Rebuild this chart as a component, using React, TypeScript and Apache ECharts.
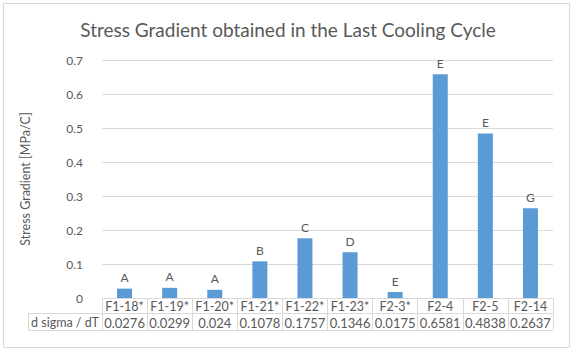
import React, { useEffect, useRef } from "react";
import * as echarts from "echarts";

const categories = ["F1-18*", "F1-19*", "F1-20*", "F1-21*", "F1-22*", "F1-23*", "F2-3*", "F2-4", "F2-5", "F2-14"];
const values = [0.0276, 0.0299, 0.024, 0.1078, 0.1757, 0.1346, 0.0175, 0.6581, 0.4838, 0.2637];
const valueTexts = ["0.0276", "0.0299", "0.024", "0.1078", "0.1757", "0.1346", "0.0175", "0.6581", "0.4838", "0.2637"];
const groups = ["A", "A", "A", "B", "C", "D", "E", "E", "E", "G"];
const seriesName = "d sigma / dT";
const title = "Stress Gradient obtained in the Last Cooling Cycle";
const yName = "Stress Gradient [MPa/C]";

const FONT = "Lato";
const TXT = "#595959";
const LINE = "#d9d9d9";

export default function App() {
  const ref = useRef<HTMLDivElement>(null);
  useEffect(() => {
    if (!ref.current) return;
    const chart = echarts.init(ref.current, null, { renderer: "svg" });
    chart.setOption({
      animation: false,
      backgroundColor: "#ffffff",
      textStyle: { fontFamily: FONT },
      title: {
        text: title,
        left: "center",
        top: 15,
        textStyle: { fontFamily: FONT, fontSize: 19, fontWeight: "normal", color: TXT },
      },
      grid: { left: 102, right: 23, top: 60, bottom: 56, containLabel: false },
      xAxis: {
        type: "category",
        data: categories,
        axisLine: { lineStyle: { color: LINE } },
        axisTick: { show: true, length: 32, interval: 0, lineStyle: { color: LINE } },
        axisLabel: {
          interval: 0,
          margin: 0,
          formatter: (v: string, i: number) => `{a|${v}}\n{b|${valueTexts[i]}}`,
          rich: {
            a: { fontFamily: FONT, fontSize: 12.5, color: TXT, lineHeight: 16, height: 16 },
            b: { fontFamily: FONT, fontSize: 13, color: TXT, lineHeight: 17, height: 17 },
          },
        },
      },
      yAxis: {
        type: "value",
        min: 0,
        max: 0.7,
        interval: 0.1,
        name: yName,
        nameLocation: "middle",
        nameRotate: 90,
        nameGap: 70,
        nameTextStyle: { fontFamily: FONT, fontSize: 12.5, color: TXT },
        axisLine: { show: false },
        axisTick: { show: false },
        axisLabel: { fontFamily: FONT, fontSize: 12, color: TXT, margin: 19 },
        splitLine: { lineStyle: { color: LINE } },
      },
      series: [
        {
          name: seriesName,
          type: "bar",
          data: values,
          barWidth: 15,
          itemStyle: { color: "#5b9bd5" },
          label: {
            show: true,
            position: "top",
            distance: 5,
            formatter: (p: any) => groups[p.dataIndex],
            fontFamily: FONT,
            fontSize: 12,
            color: TXT,
          },
        },
      ],
      graphic: [
        {
          type: "rect",
          shape: { x: 3.5, y: 3.5, width: 566, height: 344 },
          style: { fill: "none", stroke: LINE, lineWidth: 1 },
          silent: true,
        },
        { type: "line", shape: { x1: 28, y1: 313.5, x2: 553, y2: 313.5 }, style: { stroke: LINE, lineWidth: 1 } },
        { type: "line", shape: { x1: 28, y1: 330.5, x2: 553, y2: 330.5 }, style: { stroke: LINE, lineWidth: 1 } },
        { type: "line", shape: { x1: 28.5, y1: 313, x2: 28.5, y2: 331 }, style: { stroke: LINE, lineWidth: 1 } },
        {
          type: "text",
          x: 65,
          y: 322,
          style: {
            text: seriesName,
            fontFamily: FONT,
            fontSize: 12.5,
            fill: TXT,
            align: "center",
            verticalAlign: "middle",
          },
        },
      ],
    });
    return () => chart.dispose();
  }, []);
  return <div ref={ref} style={{ width: 576, height: 354, position: "absolute", left: 0, top: 0 }} />;
}
